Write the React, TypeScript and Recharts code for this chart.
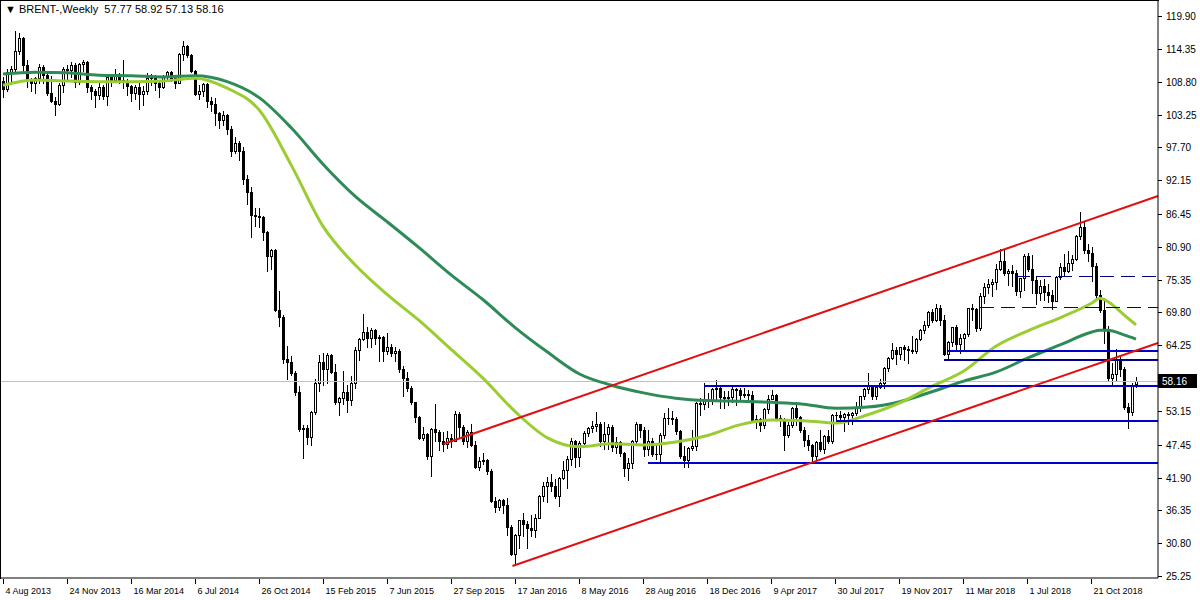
import React from 'react';
import { ComposedChart, Bar, Line, XAxis, YAxis, ReferenceLine } from 'recharts';

// weekly candles [open, high, low, close]; first bar is the week of 4 Aug 2013
const ohlc2013 = [
  [108.9, 109.6, 106.2, 107.5], [107.5, 111.0, 107.2, 110.4], [110.4, 111.5, 108.4, 111.0], [111.0, 117.3, 110.6, 114.0],
  [114.0, 117.0, 113.4, 116.1], [116.1, 116.4, 110.6, 111.7], [111.7, 112.4, 107.9, 109.2], [109.2, 109.5, 107.2, 108.6],
  [108.6, 109.6, 106.9, 109.5], [109.5, 111.8, 108.6, 111.3], [111.3, 111.6, 108.6, 109.9], [109.9, 110.2, 106.5, 106.9],
  [106.9, 109.8, 105.3, 105.5], [105.5, 106.2, 103.2, 105.1], [105.1, 108.5, 104.8, 108.3], [108.3, 111.2, 107.0, 111.0],
  [111.0, 111.6, 109.3, 110.8], [110.8, 112.2, 109.6, 111.6], [111.6, 111.9, 107.9, 108.8], [108.8, 112.0, 108.4, 111.8],
  [111.8, 112.4, 110.6, 112.2], [112.2, 112.3, 107.0, 107.9],
];
const ohlc2014 = [
  [107.9, 108.2, 105.9, 107.2], [107.2, 107.6, 104.6, 106.5], [106.5, 108.6, 105.8, 107.9], [107.9, 108.2, 105.8, 106.4],
  [106.4, 109.8, 104.8, 109.6], [109.6, 110.0, 108.0, 109.1], [109.1, 110.9, 108.9, 110.0], [110.0, 110.3, 108.5, 109.1],
  [109.1, 112.4, 107.8, 108.9], [108.9, 109.2, 106.5, 108.0], [108.0, 108.3, 105.5, 106.9], [106.9, 108.2, 105.9, 107.9],
  [107.9, 108.5, 104.1, 106.7], [106.7, 108.0, 104.9, 107.3], [107.3, 110.2, 106.7, 109.5], [109.5, 110.1, 108.3, 109.6],
  [109.6, 109.9, 107.4, 108.6], [108.6, 108.8, 106.2, 107.9], [107.9, 110.0, 107.8, 109.8], [109.8, 110.6, 109.2, 110.5],
  [110.5, 110.6, 108.9, 109.4], [109.4, 109.5, 107.7, 108.6], [108.6, 113.7, 108.6, 113.4], [113.4, 115.7, 112.5, 114.8],
  [114.8, 115.0, 112.9, 113.3], [113.3, 113.4, 110.5, 110.6], [110.6, 110.8, 106.5, 106.7], [106.7, 108.3, 105.9, 107.2],
  [107.2, 108.6, 106.3, 108.4], [108.4, 108.6, 104.6, 105.6], [105.6, 106.2, 103.9, 105.0], [105.0, 106.0, 101.5, 103.5],
  [103.5, 103.6, 101.0, 102.3], [102.3, 103.9, 101.4, 103.2], [103.2, 103.3, 100.0, 100.8], [100.8, 101.3, 96.2, 97.1],
  [97.1, 99.5, 96.8, 98.4], [98.4, 98.8, 95.6, 97.0], [97.0, 97.8, 91.5, 92.3], [92.3, 93.1, 88.1, 90.2],
  [90.2, 91.0, 82.6, 86.2], [86.2, 87.4, 84.4, 86.1], [86.1, 87.5, 84.3, 85.9], [85.9, 86.1, 82.1, 83.4],
  [83.4, 83.6, 76.8, 79.4], [79.4, 80.6, 77.2, 80.4], [80.4, 80.6, 70.0, 70.2], [70.2, 73.4, 67.5, 69.1],
  [69.1, 69.3, 61.2, 61.9], [61.9, 64.1, 58.5, 61.4], [61.4, 62.4, 59.2, 59.5], [59.5, 59.9, 55.8, 56.4],
];
const ohlc2015 = [
  [56.4, 57.4, 49.7, 50.1], [50.1, 50.7, 45.2, 50.2], [50.2, 50.8, 47.6, 48.8], [48.8, 53.2, 47.4, 53.0],
  [53.0, 58.5, 52.6, 57.8], [57.8, 62.6, 56.5, 61.5], [61.5, 63.0, 57.6, 60.2], [60.2, 62.9, 57.9, 62.6],
  [62.6, 62.8, 59.6, 59.7], [59.7, 61.0, 54.4, 54.7], [54.7, 55.5, 52.5, 55.3], [55.3, 59.9, 54.3, 56.4],
  [56.4, 57.5, 53.0, 55.0], [55.0, 59.1, 54.2, 57.9], [57.9, 63.9, 57.1, 63.5], [63.5, 65.4, 61.8, 65.3],
  [65.3, 69.6, 65.1, 66.5], [66.5, 67.3, 63.9, 65.4], [65.4, 67.1, 63.9, 66.8], [66.8, 67.0, 64.5, 65.4],
  [65.4, 66.0, 61.6, 65.6], [65.6, 65.9, 61.6, 63.3], [63.3, 66.3, 62.7, 63.9], [63.9, 64.5, 62.4, 63.0],
  [63.0, 64.0, 61.6, 63.3], [63.3, 63.6, 59.8, 60.3], [60.3, 60.8, 55.6, 58.7], [58.7, 59.8, 56.6, 57.1],
  [57.1, 57.4, 54.4, 54.6], [54.6, 54.7, 51.2, 52.2], [52.2, 52.3, 48.4, 48.6], [48.6, 50.5, 48.3, 49.2],
  [49.2, 49.5, 45.1, 45.5], [45.5, 50.3, 42.2, 50.1], [50.1, 54.3, 48.0, 49.6], [49.6, 50.0, 46.6, 48.1],
  [48.1, 49.6, 46.4, 47.5], [47.5, 49.7, 46.9, 48.6], [48.6, 49.3, 47.1, 48.1], [48.1, 53.1, 48.0, 52.7],
  [52.7, 53.0, 48.7, 50.5], [50.5, 50.8, 47.6, 48.0], [48.0, 50.0, 47.1, 49.6], [49.6, 50.9, 47.3, 47.4],
  [47.4, 48.0, 43.5, 43.6], [43.6, 45.3, 43.2, 44.7], [44.7, 46.0, 44.1, 44.9], [44.9, 45.0, 42.5, 43.0],
  [43.0, 43.3, 37.7, 37.9], [37.9, 38.6, 36.1, 36.9], [36.9, 38.2, 36.4, 38.1], [38.1, 38.2, 35.9, 37.3],
];
const ohlc2016 = [
  [37.3, 38.5, 32.2, 33.6], [33.6, 33.8, 28.8, 28.9], [28.9, 32.3, 27.1, 32.2], [32.2, 34.8, 30.0, 34.7],
  [34.7, 35.9, 32.0, 34.1], [34.1, 34.5, 30.0, 33.4], [33.4, 35.6, 32.0, 33.0], [33.0, 35.7, 31.8, 35.1],
  [35.1, 38.9, 35.0, 38.7], [38.7, 41.1, 37.9, 40.4], [40.4, 42.0, 37.8, 41.2], [41.2, 42.5, 39.6, 40.4],
  [40.4, 41.6, 38.4, 38.7], [38.7, 42.0, 37.0, 41.9], [41.9, 44.7, 41.6, 43.1], [43.1, 45.6, 40.1, 45.1],
  [45.1, 48.5, 44.0, 48.1], [48.1, 48.2, 43.6, 45.4], [45.4, 48.1, 43.9, 47.8], [47.8, 49.7, 47.5, 49.4],
  [49.4, 50.5, 48.9, 50.2], [50.2, 51.5, 49.6, 50.6], [50.6, 52.9, 49.8, 50.9], [50.9, 51.2, 47.3, 48.0],
  [48.0, 51.3, 46.7, 49.2], [49.2, 51.0, 46.8, 50.4], [50.4, 50.8, 46.3, 47.0], [47.0, 48.8, 46.1, 47.9],
  [47.9, 48.1, 45.5, 46.0], [46.0, 46.2, 42.2, 43.5], [43.5, 45.2, 41.5, 44.3], [44.3, 48.2, 43.5, 48.0],
  [48.0, 51.2, 47.6, 50.9], [50.9, 51.0, 48.7, 49.9], [49.9, 50.4, 45.6, 46.8], [46.8, 49.9, 45.7, 48.0],
  [48.0, 48.6, 45.6, 45.8], [45.8, 47.7, 45.1, 45.9], [45.9, 49.4, 44.6, 49.1], [49.1, 52.8, 48.6, 51.9],
  [51.9, 53.7, 51.0, 52.0], [52.0, 53.1, 51.0, 51.8], [51.8, 52.2, 49.2, 49.7], [49.7, 49.9, 45.2, 45.6],
  [45.6, 47.3, 43.6, 44.8], [44.8, 47.1, 43.6, 46.9], [46.9, 49.9, 46.6, 47.2], [47.2, 54.6, 46.6, 54.5],
  [54.5, 55.3, 52.4, 54.3], [54.3, 57.9, 53.4, 55.2], [55.2, 56.2, 53.8, 55.0], [55.0, 57.1, 54.4, 56.8],
];
const ohlc2017 = [
  [56.8, 58.4, 54.8, 57.1], [57.1, 57.2, 53.6, 55.5], [55.5, 56.5, 53.7, 55.4], [55.4, 56.6, 54.1, 55.5],
  [55.5, 57.2, 54.7, 56.8], [56.8, 57.0, 54.2, 56.7], [56.7, 57.0, 54.9, 55.8], [55.8, 57.1, 55.5, 56.0],
  [56.0, 56.7, 54.9, 55.9], [55.9, 56.6, 51.2, 51.4], [51.4, 52.4, 50.3, 51.8], [51.8, 52.0, 49.7, 50.8],
  [50.8, 53.6, 50.3, 53.5], [53.5, 55.8, 52.8, 55.2], [55.2, 56.7, 55.1, 55.9], [55.9, 56.0, 51.8, 52.0],
  [52.0, 52.5, 50.6, 51.7], [51.7, 52.0, 46.6, 49.1], [49.1, 51.3, 48.7, 50.8], [50.8, 53.8, 50.5, 53.6],
  [53.6, 54.7, 50.7, 52.2], [52.2, 52.3, 49.6, 49.9], [49.9, 50.4, 47.3, 48.2], [48.2, 49.0, 46.6, 47.4],
  [47.4, 47.5, 44.4, 45.5], [45.5, 48.1, 45.1, 47.9], [47.9, 50.0, 46.4, 46.7], [46.7, 49.1, 46.0, 48.9],
  [48.9, 49.9, 47.7, 48.1], [48.1, 52.7, 47.8, 52.5], [52.5, 53.0, 51.4, 52.4], [52.4, 53.2, 51.6, 52.1],
  [52.1, 52.8, 49.7, 52.7], [52.7, 53.0, 51.0, 52.4], [52.4, 52.9, 50.9, 52.8], [52.8, 54.6, 52.4, 53.8],
  [53.8, 55.7, 53.2, 55.6], [55.6, 57.0, 55.2, 56.9], [56.9, 59.5, 56.2, 57.5], [57.5, 57.6, 55.2, 55.6],
  [55.6, 57.3, 55.1, 57.2], [57.2, 58.5, 57.0, 57.8], [57.8, 60.5, 57.1, 60.4], [60.4, 62.3, 59.9, 62.1],
  [62.1, 64.7, 61.9, 63.5], [63.5, 64.0, 61.1, 62.7], [62.7, 64.0, 61.9, 63.9], [63.9, 64.3, 61.8, 63.7],
  [63.7, 64.1, 61.3, 63.4], [63.4, 65.8, 62.9, 63.2], [63.2, 65.4, 63.0, 65.3], [65.3, 67.0, 65.1, 66.9],
  [66.9, 68.3, 66.4, 67.6],
];
const ohlc2018 = [
  [67.6, 70.1, 67.3, 69.9], [69.9, 70.4, 68.2, 68.6], [68.6, 71.3, 68.3, 70.5], [70.5, 71.0, 67.7, 68.6],
  [68.6, 69.3, 62.6, 62.8], [62.8, 65.0, 61.8, 64.8], [64.8, 67.4, 64.2, 67.3], [67.3, 67.6, 63.6, 64.4],
  [64.4, 66.1, 62.9, 65.5], [65.5, 66.4, 63.6, 66.2], [66.2, 70.6, 65.8, 70.5], [70.5, 71.3, 68.6, 70.3],
  [70.3, 70.6, 66.6, 67.1], [67.1, 73.1, 66.9, 72.6], [72.6, 74.8, 71.4, 74.1], [74.1, 75.5, 73.1, 74.6],
  [74.6, 75.5, 72.6, 74.9], [74.9, 78.0, 73.8, 77.1], [77.1, 80.5, 77.0, 78.5], [78.5, 80.5, 76.2, 76.4],
  [76.4, 77.1, 74.5, 76.8], [76.8, 77.8, 74.3, 76.5], [76.5, 77.0, 72.8, 73.4], [73.4, 75.7, 72.4, 75.6],
  [75.6, 79.6, 73.6, 79.4], [79.4, 79.8, 76.8, 77.1], [77.1, 79.5, 73.0, 75.3], [75.3, 75.9, 71.2, 73.1],
  [73.1, 75.3, 71.9, 74.3], [74.3, 75.5, 71.9, 73.2], [73.2, 74.6, 71.6, 72.8], [72.8, 73.6, 70.3, 71.8],
  [71.8, 75.9, 71.7, 75.8], [75.8, 78.1, 75.5, 77.4], [77.4, 79.7, 76.0, 76.8], [76.8, 80.1, 76.6, 78.1],
  [78.1, 79.5, 76.9, 78.8], [78.8, 82.9, 78.7, 82.7], [82.7, 86.7, 82.2, 84.2], [84.2, 85.3, 79.9, 80.4],
  [80.4, 81.4, 78.5, 79.8], [79.8, 80.9, 75.1, 77.6], [77.6, 78.1, 72.1, 72.8], [72.8, 73.6, 69.9, 70.2],
  [70.2, 72.2, 64.6, 66.8], [66.8, 67.5, 58.4, 58.8], [58.8, 61.3, 57.5, 59.4], [59.4, 63.7, 58.4, 61.7],
  [61.7, 62.4, 59.1, 60.3], [60.3, 60.6, 53.5, 53.8], [53.8, 54.5, 50.2, 53.0], [53.0, 57.9, 52.5, 57.6],
];
const ohlc2019 = [[57.77, 58.92, 57.13, 58.16]];

// date labels, one every 16 weeks starting at the first bar
const weekLabels = [
  '4 Aug 2013', '24 Nov 2013', '16 Mar 2014', '6 Jul 2014', '26 Oct 2014', '15 Feb 2015', '7 Jun 2015',
  '27 Sep 2015', '17 Jan 2016', '8 May 2016', '28 Aug 2016', '18 Dec 2016', '9 Apr 2017', '30 Jul 2017',
  '19 Nov 2017', '11 Mar 2018', '1 Jul 2018', '21 Oct 2018',
];
const labelStep = 16;

const priceTicks = [
  25.25, 30.8, 36.35, 41.9, 47.45, 53.15, 58.16, 64.25, 69.8, 75.35, 80.9, 86.45, 92.15, 97.7, 103.25, 108.8,
  114.35, 119.9,
];
const lastPrice = 58.16;

// moving averages at these weeks
const maWeeks = [
  0, 8, 16, 24, 32, 40, 48, 56, 64, 72, 80, 88, 96, 104, 112, 120, 128, 136, 144, 152, 160, 168, 176, 184, 192,
  200, 208, 216, 224, 232, 240, 248, 256, 264, 272, 274, 276, 280, 283,
];
const maFast = [
  108.2, 109.1, 108.9, 108.8, 108.8, 108.9, 109.4, 107.7, 104.0, 94.7, 84.3, 77.8, 72.8, 68.4, 63.5, 58.6, 53.0,
  48.6, 47.1, 47.6, 47.4, 47.9, 49.0, 50.8, 51.6, 51.5, 51.1, 52.5, 54.5, 57.3, 59.9, 64.1, 66.7, 68.9, 71.4,
  72.2, 71.6, 69.4, 67.7,
];
const maSlow = [
  110.1, 110.4, 110.3, 109.9, 109.8, 109.6, 109.8, 108.8, 106.1, 101.0, 94.8, 89.4, 85.1, 80.7, 76.1, 71.9, 67.2,
  63.1, 59.4, 57.5, 56.2, 55.3, 54.9, 54.8, 54.6, 54.3, 53.6, 53.8, 54.7, 56.4, 58.2, 59.7, 62.1, 64.3, 66.5,
  66.8, 66.8, 66.0, 65.3,
];

// rising channel: [week, price] at each end
const channelUpper = [[110, 47.56], [288.5, 89.48]];
const channelLower = [[127.25, 26.95], [288.5, 64.63]];

// horizontal levels drawn from a week to the right edge
const levelWeeks = [175, 208, 161, 236, 235];
const levelPrices = [57.37, 51.45, 44.35, 63.28, 61.76];
const levelColors = ['#0000cd', '#0000cd', '#0000cd', '#0000cd', '#00008b'];
const dashedWeeks = [253, 244];
const dashedPrices = [75.79, 70.55];

const candles = [...ohlc2013, ...ohlc2014, ...ohlc2015, ...ohlc2016, ...ohlc2017, ...ohlc2018, ...ohlc2019];

const rows: any[] = candles.map(([open, high, low, close], i) => ({
  i, open, high, low, close, fast: null, slow: null,
}));
maWeeks.forEach((w, k) => {
  rows[w].fast = maFast[k];
  rows[w].slow = maSlow[k];
});

const RIGHT_EDGE = 288.5;
const FONT = '"Liberation Sans", Arial, sans-serif';

const Candle = (props: any) => {
  const { x, y, width, height, payload } = props;
  if (!payload) return null;
  const { open, high, low, close } = payload;
  const top = Math.min(y, y + height);
  const h = Math.abs(height);
  const k = high > low ? h / (high - low) : 0;
  const py = (v: number) => Math.round(top + (high - v) * k);
  const cx = Math.floor(x + width / 2);
  const yh = py(high);
  const yl = py(low);
  const bt = py(Math.max(open, close));
  const bb = py(Math.min(open, close));
  const bh = Math.max(1, bb - bt + 1);
  const bull = close > open;
  return (
    <g shapeRendering="crispEdges">
      <rect x={cx} y={yh} width={1} height={Math.max(1, yl - yh + 1)} fill="#000" />
      <rect x={cx - 1} y={bt} width={3} height={bh} fill="#000" />
      {bull && bh > 2 && <rect x={cx} y={bt + 1} width={1} height={bh - 2} fill="#fff" />}
    </g>
  );
};

const DateTick = ({ x, y, payload }: any) => {
  const label = weekLabels[Math.round(payload.value / labelStep)];
  const tx = Math.floor(x) + 0.5;
  return (
    <g>
      <line x1={tx} x2={tx} y1={y + 1} y2={y + 6} stroke="#000" />
      <text x={tx + 2} y={y + 16} fontSize={9} fontFamily={FONT} fill="#000">{label}</text>
    </g>
  );
};

const PriceTick = ({ x, y, payload }: any) => {
  const v = payload.value;
  const ty = Math.round(y) + 0.5;
  if (v === lastPrice) {
    return (
      <g>
        <rect x={x} y={ty - 7.5} width={39} height={14} fill="#000" />
        <text x={x + 4} y={ty + 3.5} fontSize={10} fontFamily={FONT} fill="#fff">{v.toFixed(2)}</text>
      </g>
    );
  }
  return (
    <g>
      <line x1={x} x2={x + 4} y1={ty} y2={ty} stroke="#000" />
      <text x={x + 8} y={ty + 3.5} fontSize={10} fontFamily={FONT} fill="#000">{v.toFixed(2)}</text>
    </g>
  );
};

export default function App() {
  return (
    <div style={{ position: 'absolute', left: 0, top: 0, width: 1200, height: 600, background: '#fff' }}>
      <ComposedChart width={1200} height={600} data={rows} margin={{ top: 1, right: 0, bottom: 0, left: 1 }}>
        <XAxis
          type="number"
          dataKey="i"
          domain={[-0.5, RIGHT_EDGE]}
          ticks={weekLabels.map((_, k) => k * labelStep)}
          interval={0}
          tick={<DateTick />}
          tickLine={false}
          tickSize={0}
          tickMargin={0}
          axisLine={{ stroke: '#000' }}
          height={22}
          allowDataOverflow
        />
        <YAxis
          orientation="right"
          type="number"
          domain={[24.915, 122.435]}
          ticks={priceTicks}
          interval={0}
          tick={<PriceTick />}
          tickLine={false}
          tickSize={0}
          tickMargin={0}
          axisLine={{ stroke: '#000' }}
          width={42}
          allowDataOverflow
        />
        <ReferenceLine y={lastPrice} stroke="#c0c0c0" strokeWidth={1} shapeRendering="crispEdges" />
        <Bar
          dataKey={(d: any) => [d.low, d.high]}
          barSize={3}
          shape={<Candle />}
          isAnimationActive={false}
        />
        <Line type="monotone" dataKey="slow" stroke="#2e8b57" strokeWidth={3} dot={false} connectNulls isAnimationActive={false} />
        <Line type="monotone" dataKey="fast" stroke="#9acd32" strokeWidth={3} dot={false} connectNulls isAnimationActive={false} />
        {levelWeeks.map((w, k) => (
          <ReferenceLine
            key={`lvl-${k}`}
            segment={[{ x: w, y: levelPrices[k] }, { x: RIGHT_EDGE, y: levelPrices[k] }]}
            stroke={levelColors[k]}
            strokeWidth={2}
            shapeRendering="crispEdges"
            ifOverflow="visible"
          />
        ))}
        {dashedWeeks.map((w, k) => (
          <ReferenceLine
            key={`dash-${k}`}
            segment={[{ x: w, y: dashedPrices[k] }, { x: RIGHT_EDGE, y: dashedPrices[k] }]}
            stroke="#000080"
            strokeWidth={1}
            strokeDasharray="14 7"
            shapeRendering="crispEdges"
            ifOverflow="visible"
          />
        ))}
        {[channelUpper, channelLower].map((seg, k) => (
          <ReferenceLine
            key={`ch-${k}`}
            segment={[{ x: seg[0][0], y: seg[0][1] }, { x: seg[1][0], y: seg[1][1] }]}
            stroke="#e01010"
            strokeWidth={2}
            ifOverflow="visible"
          />
        ))}
      </ComposedChart>
      <div
        style={{
          position: 'absolute', left: 0, top: 0, width: 1159, height: 579, boxSizing: 'border-box',
          borderLeft: '1px solid #000', borderTop: '1px solid #000', pointerEvents: 'none',
        }}
      />
      <div
        style={{
          position: 'absolute', left: 5, top: 2, fontFamily: FONT, fontSize: 11, color: '#000',
          whiteSpace: 'pre', lineHeight: '14px',
        }}
      >
        {'\u25BC BRENT-,Weekly  57.77 58.92 57.13 58.16'}
      </div>
    </div>
  );
}
